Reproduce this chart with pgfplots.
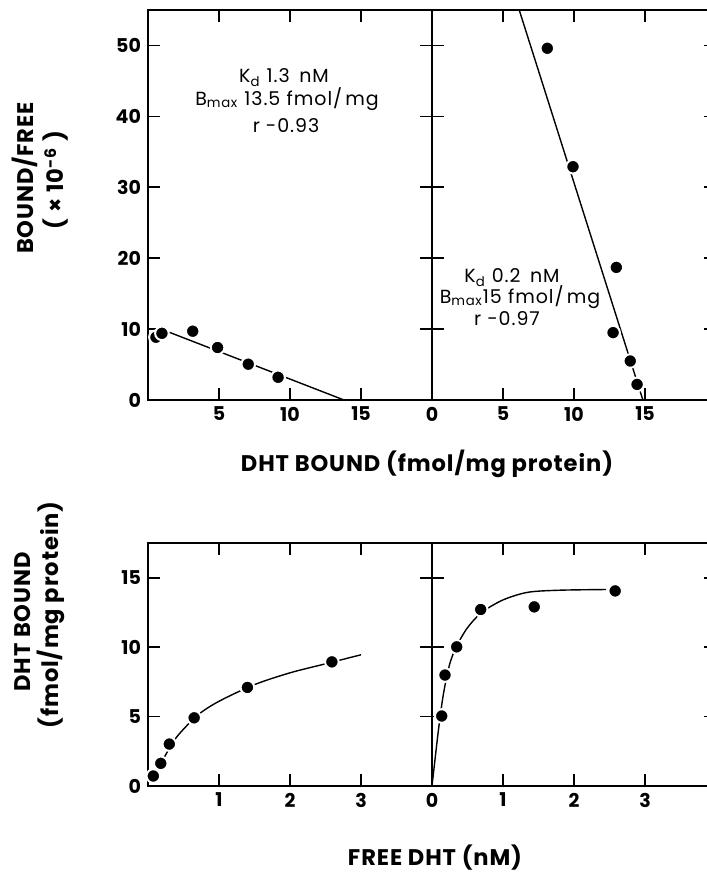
\documentclass[border=0pt]{standalone}
\usepackage{fontspec}
\setmainfont{Poppins}
\newfontfamily\notefont[LetterSpace=5]{Poppins}
\newfontfamily\labelfont[LetterSpace=4]{Poppins}
\usepackage{pgfplots}
\pgfplotsset{compat=1.18}

\pgfplotsset{
  panel/.style={
    scale only axis, width=142pt,
    axis line style={line width=1.1pt},
    tick style={line width=0.8pt, black},
    major tick length=6pt,
    tick align=inside,
    tick label style={font=\fontsize{9.5}{10}\selectfont\bfseries},
    /pgf/number format/assume math mode=true,
  },
  dots/.style={only marks, mark=*, mark size=3.4pt,
    mark options={solid, fill=black, draw=white, line width=1pt}},
  fit/.style={black, line width=0.7pt, no marks},
}

\begin{document}
\begin{tikzpicture}

% Scatchard, left
\begin{axis}[panel, height=195pt, at={(74pt,241pt)}, anchor=south west,
    xmin=0, xmax=20, ymin=0, ymax=55,
    xtick={5,10,15}, ytick={0,10,20,30,40,50}]
\addplot[fit] coordinates {(1.5,9.55)(13.8,0)};
\addplot[dots] coordinates {
    (0.56,8.85)(0.98,9.4)(3.15,9.7)(4.9,7.4)(7.06,5.05)(9.16,3.2)};
\end{axis}

% Scatchard, right
\begin{axis}[panel, height=195pt, at={(216pt,241pt)}, anchor=south west,
    xmin=0, xmax=20, ymin=0, ymax=55,
    xtick={0,5,10,15}, ytick={0,10,20,30,40,50}, yticklabels={}]
\addplot[fit] coordinates {(6.0,55.9)(14.85,0)};
\addplot[dots] coordinates {
    (8.12,49.6)(9.93,32.9)(12.98,18.7)(12.75,9.5)(13.96,5.5)(14.44,2.2)};
\end{axis}

% saturation, left
\begin{axis}[panel, height=121.5pt, at={(74pt,48pt)}, anchor=south west,
    xmin=0, xmax=4, ymin=0, ymax=17.5,
    xtick={1,2,3}, ytick={0,5,10,15}]
\addplot[fit, smooth] coordinates {
    (0.07,0.6)(0.2,1.8)(0.4,3.5)(0.7,5.1)(1.0,6.1)(1.5,7.3)
    (2.0,8.15)(2.5,8.8)(3.0,9.45)};
\addplot[dots] coordinates {
    (0.075,0.72)(0.18,1.63)(0.30,3.02)(0.65,4.91)(1.40,7.10)(2.59,8.94)};
\end{axis}

% saturation, right
\begin{axis}[panel, height=121.5pt, at={(216pt,48pt)}, anchor=south west,
    xmin=0, xmax=4, ymin=0, ymax=17.5,
    xtick={0,1,2,3}, ytick={0,5,10,15}, yticklabels={}]
\addplot[fit, smooth] coordinates {
    (0,0)(0.09,4.0)(0.16,6.6)(0.25,8.8)(0.35,10.1)(0.5,11.4)(0.7,12.5)
    (1.0,13.4)(1.35,13.95)(1.8,14.1)(2.45,14.15)};
\addplot[dots] coordinates {
    (0.137,5.04)(0.183,7.99)(0.348,10.02)(0.686,12.71)(1.44,12.9)(2.58,14.05)};
\end{axis}

% labels, placed in reference pixels (origin top left)
\begin{scope}[shift={(0,441pt)}, x=0.5pt, y=-0.5pt]
  \begin{scope}[every node/.style={font=\notefont\fontsize{9.5}{10}\selectfont, anchor=base, inner sep=0pt}]
    \node at (284,83) {K\textsubscript{d} 1.3\enspace nM};
    \node at (287,106) {B\textsubscript{max} 13.5\,\,fmol/\,mg};
    \node at (286,133) {r -0.93};
    \node at (512,283) {K\textsubscript{d} 0.2\enspace nM};
    \node at (520,304) {B\textsubscript{max}15\,\,fmol/\,mg};
    \node at (507,326) {r -0.97};
  \end{scope}
  \begin{scope}[every node/.style={font=\labelfont\fontsize{11.3}{12}\selectfont\bfseries, inner sep=0pt}]
    \node[anchor=base] at (427,472) {DHT BOUND (fmol/mg protein)};
    \node[anchor=base] at (435,865) {FREE DHT (nM)};
    \node[rotate=90] at (25,178) {BOUND/FREE};
    \node[rotate=90] at (56,180) {( × 10\textsuperscript{-6} )};
    \node[rotate=90] at (23,622) {DHT BOUND};
    \node[rotate=90] at (51,615) {(fmol/mg protein)};
  \end{scope}
\end{scope}

\pgfresetboundingbox
\useasboundingbox (0,0) rectangle (353pt,441pt);
\end{tikzpicture}
\end{document}
